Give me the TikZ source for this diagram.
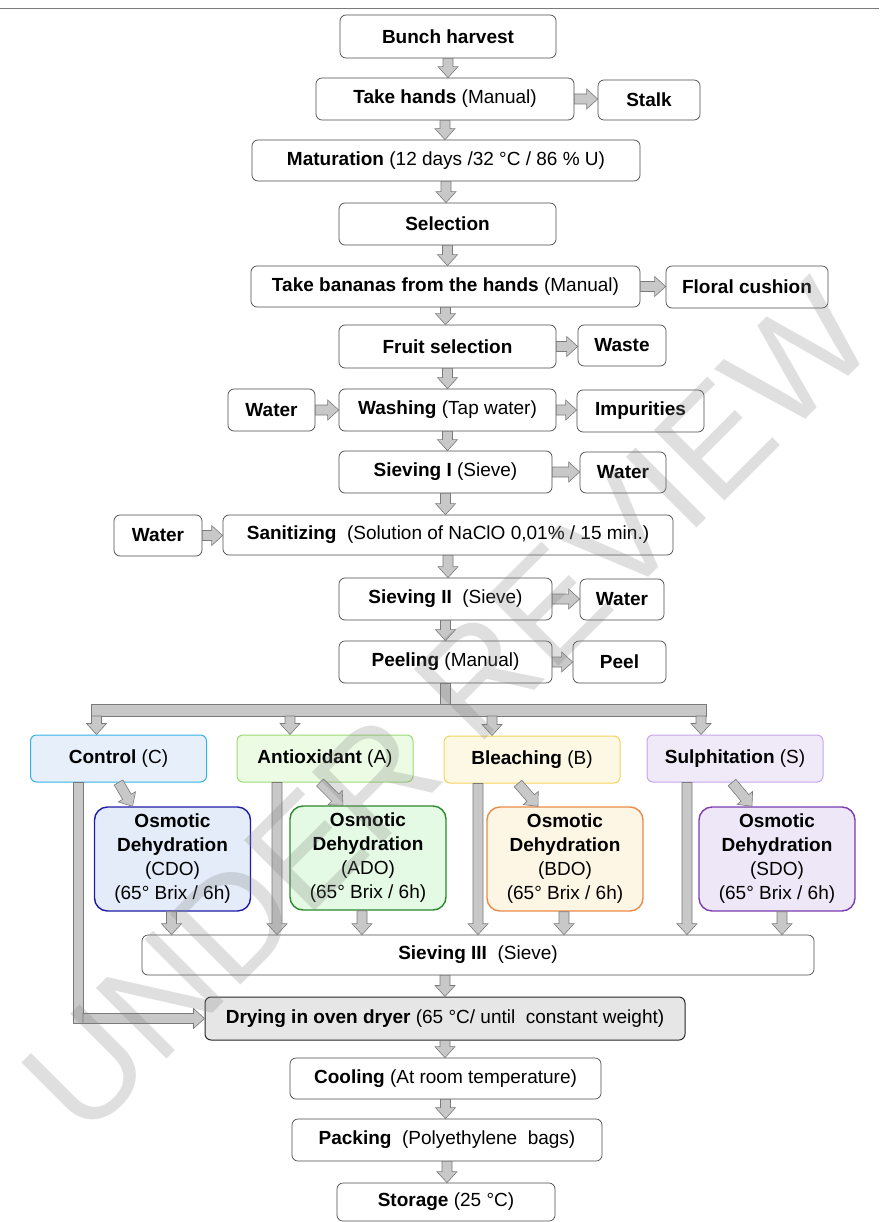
\documentclass[tikz,border=0pt]{standalone}
\usepackage{fontspec}
\setmainfont{Liberation Sans}
\usetikzlibrary{calc}
\definecolor{arrfill}{HTML}{C8C8C8}
\definecolor{arrline}{HTML}{7A7A7A}
\definecolor{boxline}{HTML}{4A4A4A}
\definecolor{ctrlF}{HTML}{E6EFFA}\definecolor{ctrlD}{HTML}{33B3E6}
\definecolor{cdoF}{HTML}{E3ECF8}\definecolor{cdoD}{HTML}{1C1CA8}
\definecolor{antiF}{HTML}{ECFBE4}\definecolor{antiD}{HTML}{9CDB72}
\definecolor{adoF}{HTML}{E4FAE4}\definecolor{adoD}{HTML}{2A8A2A}
\definecolor{bleF}{HTML}{FDF8E4}\definecolor{bleD}{HTML}{F3D45A}
\definecolor{bdoF}{HTML}{FEF6E4}\definecolor{bdoD}{HTML}{EC8A48}
\definecolor{sulF}{HTML}{F0E9F8}\definecolor{sulD}{HTML}{C6A6EA}
\definecolor{sdoF}{HTML}{EEE7F7}\definecolor{sdoD}{HTML}{7A3CB0}
\definecolor{dryF}{HTML}{E6E6E6}
\begin{document}
\begin{tikzpicture}[x=1pt,y=-1pt,
  font=\fontsize{19}{23}\selectfont,
  box/.style={draw=boxline, line width=0.7pt, rounded corners=6pt, fill=white, inner sep=0pt, align=center},
  wh/.style 2 args={minimum width=#1pt, minimum height=#2pt},
  trt/.style 2 args={box, line width=1pt, fill=#1, draw=#2, wh={176}{47}},
  osm/.style 2 args={box, rounded corners=13pt, line width=1.4pt, fill=#1, draw=#2, wh={156}{104}, font=\fontsize{19}{24}\selectfont},
  bar/.style={draw=arrline, fill=arrfill, line width=0.6pt},
  blk/.style={draw=arrline, fill=arrfill, line width=0.6pt, line join=miter,
    to path={
      ($(\tikztostart)!5pt!90:(\tikztotarget)$) --
      ($(\tikztotarget)!11pt!(\tikztostart)!5pt!-90:(\tikztostart)$) --
      ($(\tikztotarget)!11pt!(\tikztostart)!10pt!-90:(\tikztostart)$) --
      (\tikztotarget) --
      ($(\tikztotarget)!11pt!(\tikztostart)!10pt!90:(\tikztostart)$) --
      ($(\tikztotarget)!11pt!(\tikztostart)!5pt!90:(\tikztostart)$) --
      ($(\tikztostart)!5pt!-90:(\tikztotarget)$) -- cycle}}
]
\useasboundingbox (0,0) rectangle (879,1222);
\draw[draw=arrline, line width=1pt] (0,9) -- (879,9);

% main column
\node[box, wh={216}{43}] (harvest) at (448,36.5) {\textbf{Bunch harvest}};
\node[box, wh={258}{42}] (takehands) at (445,99) {\textbf{Take hands} (Manual)};
\node[box, wh={102}{40}] (stalk) at (649,100) {\textbf{Stalk}};
\node[box, wh={388}{41}] (matur) at (446,160.5) {\textbf{Maturation} (12 days /32 °C / 86 \% U)};
\node[box, wh={217}{42}] (select) at (447.5,224) {\textbf{Selection}};
\node[box, wh={389}{41}] (takeban) at (445.5,286.5) {\textbf{Take bananas from the hands} (Manual)};
\node[box, wh={162}{42}] (floral) at (747,287) {\textbf{Floral cushion}};
\node[box, wh={217}{43}] (fruitsel) at (447.5,346.5) {\textbf{Fruit selection}};
\node[box, wh={88}{41}] (waste) at (622,345.5) {\textbf{Waste}};
\node[box, wh={87}{42}] (waterA) at (271.5,410) {\textbf{Water}};
\node[box, wh={217}{42}] (washing) at (447.5,410) {\textbf{Washing} (Tap water)};
\node[box, wh={127}{42}] (impur) at (640.5,411) {\textbf{Impurities}};
\node[box, wh={213}{42}] (sieveI) at (445.5,472) {\textbf{Sieving I} (Sieve)};
\node[box, wh={86}{41}] (waterB) at (623,472.5) {\textbf{Water}};
\node[box, wh={88}{41}] (waterC) at (158,535.5) {\textbf{Water}};
\node[box, wh={450}{40}] (sanit) at (448,535) {\textbf{Sanitizing}\ \ (Solution of NaClO 0,01\% / 15 min.)};
\node[box, wh={213}{42}] (sieveII) at (445.5,599) {\textbf{Sieving II}\ \ (Sieve)};
\node[box, wh={84}{41}] (waterD) at (622,599.5) {\textbf{Water}};
\node[box, wh={213}{42}] (peeling) at (445.5,662) {\textbf{Peeling} (Manual)};
\node[box, wh={93}{42}] (peel) at (619.5,662) {\textbf{Peel}};

% treatments
\node[trt={ctrlF}{ctrlD}] (ctrl) at (118.5,758.5) {\textbf{Control} (C)};
\node[trt={antiF}{antiD}] (anti) at (325,758.5) {\textbf{Antioxidant} (A)};
\node[trt={bleF}{bleD}] (bleach) at (532,759.5) {\textbf{Bleaching} (B)};
\node[trt={sulF}{sulD}] (sulph) at (735,758.5) {\textbf{Sulphitation} (S)};

\node[osm={cdoF}{cdoD}] (cdo) at (172.5,859) {\textbf{Osmotic}\\\textbf{Dehydration}\\(CDO)\\(65° Brix / 6h)};
\node[osm={adoF}{adoD}] (ado) at (368,858) {\textbf{Osmotic}\\\textbf{Dehydration}\\(ADO)\\(65° Brix / 6h)};
\node[osm={bdoF}{bdoD}] (bdo) at (565,859) {\textbf{Osmotic}\\\textbf{Dehydration}\\(BDO)\\(65° Brix / 6h)};
\node[osm={sdoF}{sdoD}] (sdo) at (777,859) {\textbf{Osmotic}\\\textbf{Dehydration}\\(SDO)\\(65° Brix / 6h)};

\node[box, wh={672}{40}] (sieveIII) at (478,955) {\textbf{Sieving III}\ \ (Sieve)};
\node[box, wh={480}{43}, fill=dryF, draw=black!85, line width=1pt] (drying) at (445,1018.5) {\textbf{Drying in oven dryer} (65 °C/ until\ \ constant weight)};
\node[box, wh={311}{41}] (cooling) at (445.5,1078.5) {\textbf{Cooling} (At room temperature)};
\node[box, wh={310}{42}] (packing) at (447,1140) {\textbf{Packing}\ \ (Polyethylene\ \ bags)};
\node[box, wh={218}{38}] (storage) at (446,1202) {\textbf{Storage} (25 °C)};

% main vertical arrows
\foreach \a/\b in {harvest/takehands, takehands/matur, matur/select, select/takeban, takeban/fruitsel,
  fruitsel/washing, washing/sieveI, sieveI/sanit, sanit/sieveII, sieveII/peeling}
  \draw[blk] (\a.south) to (\a.south |- \b.north);
\draw[blk] (drying.north |- sieveIII.south) to (drying.north);
\foreach \a/\b in {drying/cooling, cooling/packing, packing/storage}
  \draw[blk] (\a.south) to (\a.south |- \b.north);

% side arrows
\draw[blk] (takehands.east) to (takehands.east -| stalk.west);
\draw[blk] (takeban.east) to (takeban.east -| floral.west);
\draw[blk] (fruitsel.east) to (fruitsel.east -| waste.west);
\draw[blk] (waterA.east) to (waterA.east -| washing.west);
\draw[blk] (washing.east) to (washing.east -| impur.west);
\draw[blk] (sieveI.east) to (sieveI.east -| waterB.west);
\draw[blk] (waterC.east) to (waterC.east -| sanit.west);
\draw[blk] (sieveII.east) to (sieveII.east -| waterD.west);
\draw[blk] (peeling.east) to (peeling.east -| peel.west);

% distribution bus
\coordinate (busL) at (91,704);
\coordinate (busR) at (706,716);
\draw[bar] ($(peeling.south)+(-5,0)$) rectangle ($(peeling.south |- busL)+(5,0)$);
\draw[bar] (busL) rectangle (busR);
\draw[blk] ($(ctrl.north |- busR)+(-22,0)$) to ($(ctrl.north)+(-22,0)$);
\draw[blk] ($(anti.north |- busR)+(-35,0)$) to ($(anti.north)+(-35,0)$);
\draw[blk] ($(bleach.north |- busR)+(-40,0)$) to ($(bleach.north)+(-40,0)$);
\draw[blk] ($(sulph.north |- busR)+(-34,0)$) to ($(sulph.north)+(-34,0)$);

% treatment -> osmotic dehydration
\draw[blk] ($(ctrl.south)+(0,0)$) to ($(cdo.north)+(-40,0)$);
\draw[blk] ($(anti.south)+(-5,0)$) to ($(ado.north)+(-25,0)$);
\draw[blk] ($(bleach.south)+(-14,0)$) to ($(bdo.north)+(-27,0)$);
\draw[blk] ($(sulph.south)+(-3,0)$) to ($(sdo.north)+(-25,0)$);

% direct routes to sieving III
\draw[blk] ($(anti.south)+(-48,0)$) to ($(anti.south |- sieveIII.north)+(-48,0)$);
\draw[blk] ($(bleach.south)+(-54,0)$) to ($(bleach.south |- sieveIII.north)+(-54,0)$);
\draw[blk] ($(sulph.south)+(-48,0)$) to ($(sulph.south |- sieveIII.north)+(-48,0)$);

% osmotic -> sieving III
\draw[blk] ($(cdo.south)+(-1,0)$) to ($(cdo.south |- sieveIII.north)+(-1,0)$);
\draw[blk] ($(ado.south)+(-6,0)$) to ($(ado.south |- sieveIII.north)+(-6,0)$);
\draw[blk] ($(bdo.south)+(-1,0)$) to ($(bdo.south |- sieveIII.north)+(-1,0)$);
\draw[blk] ($(sdo.south)+(5,0)$) to ($(sdo.south |- sieveIII.north)+(5,0)$);

% control bypass to drying
\coordinate (cb) at ($(ctrl.south)+(-40.5,0)$);
\draw[bar] ($(cb)+(-5,0)$) rectangle ($(cb |- drying.west)+(5,5)$);
\draw[blk] ($(cb |- drying.west)+(5,0)$) to (drying.west);

% watermark
\node[rotate=45, text=gray, opacity=0.25, font=\fontsize{145}{145}\selectfont] (wm) at (448,708) {UNDER REVIEW};
\end{tikzpicture}
\end{document}
